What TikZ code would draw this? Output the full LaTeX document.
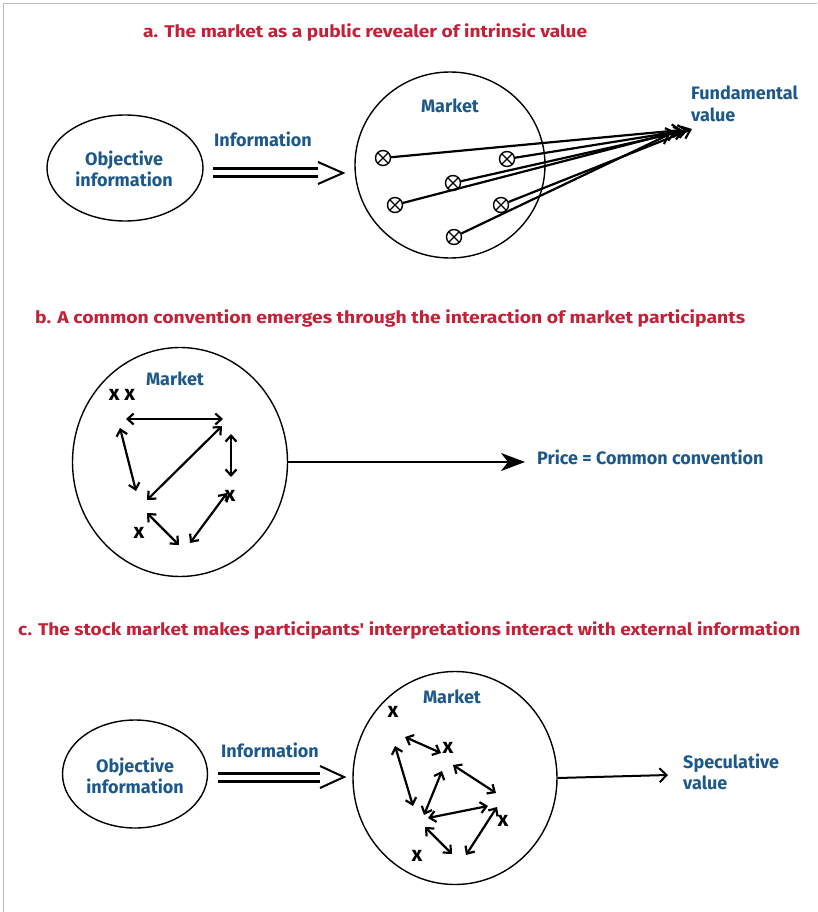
\documentclass[tikz,border=0pt]{standalone}
\usepackage{fontspec}
\setmainfont{Fira Sans}
\newfontfamily\apfont{Fira Sans}
\usetikzlibrary{arrows.meta,shapes.geometric}
\definecolor{tred}{RGB}{196,32,56}
\definecolor{tblue}{RGB}{28,88,138}
\definecolor{frame}{RGB}{185,185,190}
\tikzset{
  title/.style={anchor=west,text=tred,font=\fontsize{17}{20}\selectfont\bfseries,inner sep=0pt},
  lab/.style={text=tblue,font=\fontsize{18}{21.5}\selectfont\bfseries,inner sep=0pt},
  bubble/.style={draw,shape=ellipse,line width=1.4pt,inner sep=0pt},
  otimes/.style={draw,circle,line width=1.4pt,minimum size=15pt,inner sep=0pt,
    path picture={\draw[line width=1.2pt] (path picture bounding box.north west) -- (path picture bounding box.south east)
      (path picture bounding box.north east) -- (path picture bounding box.south west);}},
  fund/.style={line width=2.2pt,-{Straight Barb[length=8pt,width=13pt,line width=2.2pt]}},
  inter/.style={line width=2.2pt,{Straight Barb[length=6pt,width=11pt,line width=2.2pt]}-{Straight Barb[length=6pt,width=11pt,line width=2.2pt]}},
  xmark/.style={font=\fontsize{21}{22}\selectfont\bfseries,inner sep=0pt},
  dline/.style={line width=3pt},
  chev/.style={line width=2pt,line join=miter},
}
\begin{document}
\begin{tikzpicture}[x=1pt,y=-1pt]
\useasboundingbox (0,0) rectangle (817,912);
% frame
\draw[frame,line width=1.6pt] (3.5,912) -- (3.5,3.5) -- (817,3.5);

% ---------- panel a ----------
\node[title] (ta) at (143,32) {\resizebox{444pt}{\height}{a. The market as a public revealer of intrinsic value}};
\node[bubble,minimum width=156pt,minimum height=106pt] (objA) at (125,168) {};
\node[lab,align=center] (objAt) at (124,169) {Objective\\information};
\node[lab] (infA) at (263,139) {Information};
\coordinate (dA1) at (213,169); \coordinate (dA2) at (318,169);
\coordinate (dA3) at (213,177); \coordinate (dA4) at (318,177);
\coordinate (cA1) at (318,162); \coordinate (cA2) at (343,173); \coordinate (cA3) at (318,184);
\draw[dline] (dA1) -- (dA2);
\draw[dline] (dA3) -- (dA4);
\draw[chev] (cA1) -- (cA2) -- (cA3);
\node[bubble,minimum width=190pt,minimum height=186pt] (mktA) at (450,165) {};
\node[lab] (mA) at (450,106) {Market};
\node[otimes] (p1) at (383,158) {};
\node[otimes] (p2) at (507,159) {};
\node[otimes] (p3) at (453,183) {};
\node[otimes] (p4) at (395,205) {};
\node[otimes] (p5) at (501,205) {};
\node[otimes] (p6) at (454,237) {};
\coordinate (f1) at (682,130);
\coordinate (f2) at (688,130);
\coordinate (f3) at (684,131);
\coordinate (f4) at (676,132);
\coordinate (f5) at (692,129);
\coordinate (f6) at (670,134);
\foreach \i in {1,...,6} \draw[fund] (p\i) -- (f\i);
\node[lab,anchor=west,align=left] (fv) at (691,104) {Fundamental\\value};

% ---------- panel b ----------
\node[title] (tb) at (35,318) {\resizebox{710pt}{\height}{b. A common convention emerges through the interaction of market participants}};
\node[bubble,minimum width=215pt,minimum height=229pt] (mktB) at (180,462) {};
\node[lab] (mB) at (175,379) {Market};
\node[xmark] (xb1) at (122,395) {x x};
\node[xmark] (xb2) at (230,496) {x};
\node[xmark] (xb3) at (139,533) {x};
\coordinate (b1a) at (126,419); \coordinate (b1b) at (223,419);
\coordinate (b2a) at (120,428); \coordinate (b2b) at (136,491);
\coordinate (b3a) at (222,426); \coordinate (b3b) at (147,500);
\coordinate (b4a) at (231,434); \coordinate (b4b) at (231,477);
\coordinate (b5a) at (227,493); \coordinate (b5b) at (190,543);
\coordinate (b6a) at (147,513); \coordinate (b6b) at (179,545);
\foreach \i in {1,...,6} \draw[inter] (b\i a) -- (b\i b);
\coordinate (pr) at (525,462);
\draw[line width=2pt,-{Stealth[length=24pt,width=18pt,inset=7pt]}] (mktB.east) -- (pr);
\node[lab,anchor=west] (price) at (537,457) {Price = Common convention};

% ---------- panel c ----------
\node[title] (tc) at (18,630) {\resizebox{782pt}{\height}{c. The stock market makes participants{\apfont\bfseries '} interpretations interact with external information}};
\node[bubble,minimum width=145pt,minimum height=108pt] (objC) at (135,774) {};
\node[lab,align=center] (objCt) at (135,776) {Objective\\information};
\node[lab] (infC) at (270,750) {Information};
\coordinate (dC1) at (218,773); \coordinate (dC2) at (320,773);
\coordinate (dC3) at (218,781); \coordinate (dC4) at (320,781);
\coordinate (cC1) at (320,766); \coordinate (cC2) at (344,777); \coordinate (cC3) at (320,788);
\draw[dline] (dC1) -- (dC2);
\draw[dline] (dC3) -- (dC4);
\draw[chev] (cC1) -- (cC2) -- (cC3);
\node[bubble,minimum width=204pt,minimum height=213pt] (mktC) at (455,778) {};
\node[lab] (mC) at (452,697) {Market};
\node[xmark] (xc1) at (393,712) {x};
\node[xmark] (xc2) at (448,748) {x};
\node[xmark] (xc3) at (503,821) {x};
\node[xmark] (xc4) at (417,856) {x};
\coordinate (c1a) at (405,737); \coordinate (c1b) at (441,753);
\coordinate (c2a) at (395,746); \coordinate (c2b) at (413,806);
\coordinate (c3a) at (442,771); \coordinate (c3b) at (424,815);
\coordinate (c4a) at (453,765); \coordinate (c4b) at (496,793);
\coordinate (c5a) at (488,806); \coordinate (c5b) at (428,818);
\coordinate (c6a) at (425,827); \coordinate (c6b) at (452,854);
\coordinate (c7a) at (497,807); \coordinate (c7b) at (466,855);
\foreach \i in {1,...,7} \draw[inter] (c\i a) -- (c\i b);
\coordinate (sp) at (668,775);
\draw[line width=2pt,-{Straight Barb[length=7pt,width=14pt,line width=2pt]}] (mktC.east) -- (sp);
\node[lab,anchor=west,align=left] (spec) at (683,772) {Speculative\\value};
\end{tikzpicture}
\end{document}
